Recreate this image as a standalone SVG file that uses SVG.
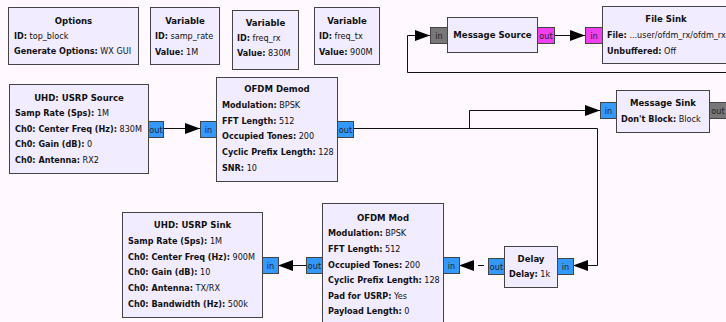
<svg xmlns="http://www.w3.org/2000/svg" width="726" height="322" viewBox="0 0 726 322">
  <style>
    .blk { fill: #f1ecff; stroke: #444; stroke-width: 1; }
    .t { font-family: "DejaVu Sans Condensed", "DejaVu Sans", sans-serif; font-size: 9px; fill: #111; }
    .h { font-weight: bold; text-anchor: middle; font-size: 9.5px; }
    .b { font-weight: bold; }
    .pt { font-family: "DejaVu Sans Condensed", "DejaVu Sans", sans-serif; font-size: 9px; fill: #222; text-anchor: middle; }
    .cplx { fill: #3399ff; stroke: #444; stroke-width: 1; }
    .msg { fill: #777; stroke: #444; stroke-width: 1; }
    .byte { fill: #f040f0; stroke: #444; stroke-width: 1; }
    .wire { fill: none; stroke: #111; stroke-width: 1; }
  </style>
  <defs>
    <marker id="arr" viewBox="0 0 15 11" markerWidth="15" markerHeight="11" refX="15" refY="5.5" orient="auto" markerUnits="userSpaceOnUse">
      <path d="M0,0 L15,5.5 L0,11 z" fill="#000"/>
    </marker>
  </defs>

  <rect width="726" height="322" fill="#fff9ff"/>

  <!-- connections -->
  <g id="connections">
    <path class="wire" d="M163,128.5 H200" marker-end="url(#arr)"/>
    <path class="wire" d="M353,128.5 H597.5 V265.5 H573" marker-end="url(#arr)"/>
    <path class="wire" d="M469.5,128.5 V110.5 H600" marker-end="url(#arr)"/>
    <path class="wire" d="M484,265.5 H478"/>
    <path class="wire" d="M474,265.5 H459" marker-end="url(#arr)"/>
    <path class="wire" d="M306,265.5 H278" marker-end="url(#arr)"/>
    <path class="wire" d="M554,35.5 H585" marker-end="url(#arr)"/>
    <path class="wire" d="M726,72.5 H407.5 V35.5 H430" marker-end="url(#arr)"/>
  </g>

  <!-- Options -->
  <g id="options">
    <rect class="blk" x="8.5" y="7.5" width="130" height="57"/>
    <text class="t h" x="73.5" y="24">Options</text>
    <text class="t" x="14" y="38.5"><tspan class="b">ID:</tspan> top_block</text>
    <text class="t" x="14" y="54"><tspan class="b">Generate Options:</tspan> WX GUI</text>
  </g>

  <!-- Variables -->
  <g id="var_samp_rate">
    <rect class="blk" x="150.5" y="7.5" width="69" height="57"/>
    <text class="t h" x="185" y="24">Variable</text>
    <text class="t" x="155" y="38.5"><tspan class="b">ID:</tspan> samp_rate</text>
    <text class="t" x="155" y="54.5"><tspan class="b">Value:</tspan> 1M</text>
  </g>
  <g id="var_freq_rx">
    <rect class="blk" x="232.5" y="10.5" width="66" height="59"/>
    <text class="t h" x="265.5" y="25.5">Variable</text>
    <text class="t" x="237" y="40.5"><tspan class="b">ID:</tspan> freq_rx</text>
    <text class="t" x="237" y="56"><tspan class="b">Value:</tspan> 830M</text>
  </g>
  <g id="var_freq_tx">
    <rect class="blk" x="314.5" y="7.5" width="65" height="57"/>
    <text class="t h" x="347" y="23.5">Variable</text>
    <text class="t" x="319" y="39"><tspan class="b">ID:</tspan> freq_tx</text>
    <text class="t" x="319" y="55"><tspan class="b">Value:</tspan> 900M</text>
  </g>

  <!-- Message Source -->
  <g id="msg_source">
    <rect class="msg" x="430.5" y="27.5" width="17" height="16"/>
    <text class="pt" x="439" y="39">in</text>
    <rect class="blk" x="447.5" y="17.5" width="90" height="35"/>
    <text class="t h" x="492.5" y="38">Message Source</text>
    <rect class="byte" x="537.5" y="27.5" width="17" height="16"/>
    <text class="pt" x="546" y="39">out</text>
  </g>

  <!-- File Sink -->
  <g id="file_sink">
    <rect class="byte" x="585.5" y="27.5" width="17" height="16"/>
    <text class="pt" x="594" y="39">in</text>
    <rect class="blk" x="602.5" y="6.5" width="128" height="57"/>
    <text class="t h" x="666" y="22.3">File Sink</text>
    <text class="t" x="607" y="37.8"><tspan class="b">File:</tspan> ...user/ofdm_rx/ofdm_rx</text>
    <text class="t" x="607" y="53.5"><tspan class="b">Unbuffered:</tspan> Off</text>
  </g>

  <!-- UHD: USRP Source -->
  <g id="usrp_source">
    <rect class="blk" x="9.5" y="84.5" width="139" height="89"/>
    <text class="t h" x="79" y="100.5">UHD: USRP Source</text>
    <text class="t" x="15" y="116"><tspan class="b">Samp Rate (Sps):</tspan> 1M</text>
    <text class="t" x="15" y="131.5"><tspan class="b">Ch0: Center Freq (Hz):</tspan> 830M</text>
    <text class="t" x="15" y="147"><tspan class="b">Ch0: Gain (dB):</tspan> 0</text>
    <text class="t" x="15" y="162.5"><tspan class="b">Ch0: Antenna:</tspan> RX2</text>
    <rect class="cplx" x="148.5" y="121.5" width="15" height="16"/>
    <text class="pt" x="156" y="133">out</text>
  </g>

  <!-- OFDM Demod -->
  <g id="ofdm_demod">
    <rect class="cplx" x="200.5" y="121.5" width="16" height="16"/>
    <text class="pt" x="208.5" y="133">in</text>
    <rect class="blk" x="216.5" y="77.5" width="121" height="104"/>
    <text class="t h" x="277" y="92.3">OFDM Demod</text>
    <text class="t" x="222" y="108"><tspan class="b">Modulation:</tspan> BPSK</text>
    <text class="t" x="222" y="123.7"><tspan class="b">FFT Length:</tspan> 512</text>
    <text class="t" x="222" y="139.4"><tspan class="b">Occupied Tones:</tspan> 200</text>
    <text class="t" x="222" y="155"><tspan class="b">Cyclic Prefix Length:</tspan> 128</text>
    <text class="t" x="222" y="170.7"><tspan class="b">SNR:</tspan> 10</text>
    <rect class="cplx" x="337.5" y="121.5" width="16" height="16"/>
    <text class="pt" x="345.5" y="133">out</text>
  </g>

  <!-- Message Sink -->
  <g id="msg_sink">
    <rect class="cplx" x="600.5" y="102.5" width="16" height="16"/>
    <text class="pt" x="608.5" y="114">in</text>
    <rect class="blk" x="616.5" y="90.5" width="93" height="42"/>
    <text class="t h" x="663" y="105.7">Message Sink</text>
    <text class="t" x="621" y="121.5"><tspan class="b">Don't Block:</tspan> Block</text>
    <rect class="msg" x="709.5" y="102.5" width="17" height="16"/>
    <text class="pt" x="718" y="114">out</text>
  </g>

  <!-- Delay -->
  <g id="delay">
    <rect class="cplx" x="488.5" y="258.5" width="16" height="16"/>
    <text class="pt" x="496.5" y="270">out</text>
    <rect class="blk" x="504.5" y="246.5" width="53" height="41"/>
    <text class="t h" x="531" y="261.5">Delay</text>
    <text class="t" x="509" y="277"><tspan class="b">Delay:</tspan> 1k</text>
    <rect class="cplx" x="557.5" y="258.5" width="16" height="16"/>
    <text class="pt" x="565.5" y="270">in</text>
  </g>

  <!-- OFDM Mod -->
  <g id="ofdm_mod">
    <rect class="cplx" x="306.5" y="257.5" width="16" height="16"/>
    <text class="pt" x="314.5" y="269">out</text>
    <rect class="blk" x="322.5" y="203.5" width="121" height="123"/>
    <text class="t h" x="383" y="220.7">OFDM Mod</text>
    <text class="t" x="328" y="236.3"><tspan class="b">Modulation:</tspan> BPSK</text>
    <text class="t" x="328" y="252"><tspan class="b">FFT Length:</tspan> 512</text>
    <text class="t" x="328" y="267.6"><tspan class="b">Occupied Tones:</tspan> 200</text>
    <text class="t" x="328" y="283.2"><tspan class="b">Cyclic Prefix Length:</tspan> 128</text>
    <text class="t" x="328" y="298.8"><tspan class="b">Pad for USRP:</tspan> Yes</text>
    <text class="t" x="328" y="314.4"><tspan class="b">Payload Length:</tspan> 0</text>
    <rect class="cplx" x="443.5" y="257.5" width="16" height="16"/>
    <text class="pt" x="451.5" y="269">in</text>
  </g>

  <!-- UHD: USRP Sink -->
  <g id="usrp_sink">
    <rect class="blk" x="122.5" y="212.5" width="140" height="105"/>
    <text class="t h" x="192.5" y="228.3">UHD: USRP Sink</text>
    <text class="t" x="128" y="244"><tspan class="b">Samp Rate (Sps):</tspan> 1M</text>
    <text class="t" x="128" y="259.7"><tspan class="b">Ch0: Center Freq (Hz):</tspan> 900M</text>
    <text class="t" x="128" y="275.4"><tspan class="b">Ch0: Gain (dB):</tspan> 10</text>
    <text class="t" x="128" y="291"><tspan class="b">Ch0: Antenna:</tspan> TX/RX</text>
    <text class="t" x="128" y="306.7"><tspan class="b">Ch0: Bandwidth (Hz):</tspan> 500k</text>
    <rect class="cplx" x="262.5" y="257.5" width="16" height="16"/>
    <text class="pt" x="270.5" y="269">in</text>
  </g>
</svg>
